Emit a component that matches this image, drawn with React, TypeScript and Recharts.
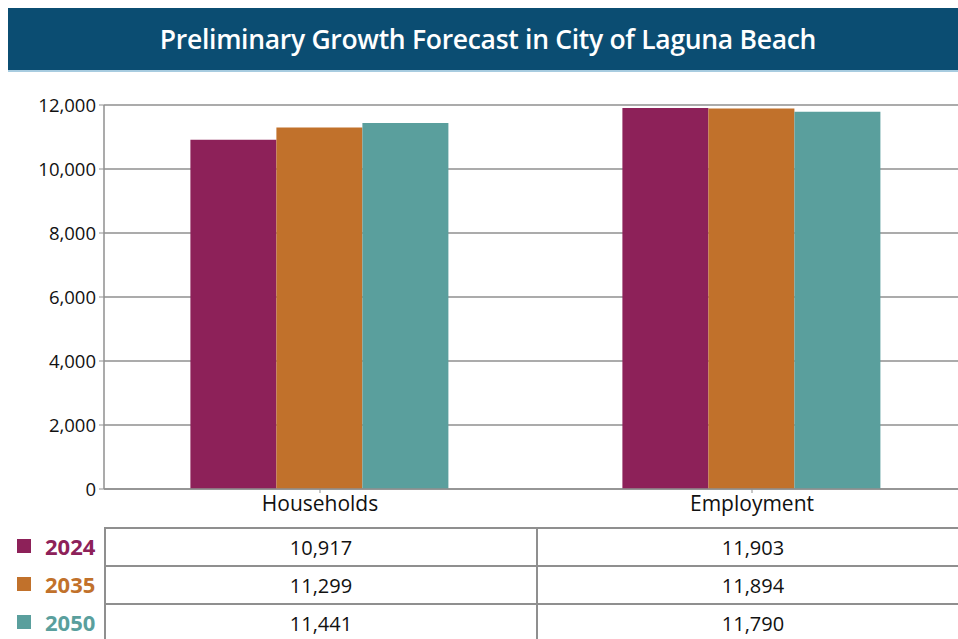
import { BarChart, Bar, XAxis, YAxis, CartesianGrid } from "recharts";

const categories = ["Households", "Employment"];
const years = ["2024", "2035", "2050"];
const values2024 = [10917, 11903];
const values2035 = [11299, 11894];
const values2050 = [11441, 11790];
const yTicks = [0, 2000, 4000, 6000, 8000, 10000, 12000];

const COLORS = ["#8D2159", "#C1712B", "#5A9F9D"];
const series = [values2024, values2035, values2050];

const data = categories.map((name, i) => ({
  name,
  y2024: values2024[i],
  y2035: values2035[i],
  y2050: values2050[i],
}));

const font = "'Open Sans', 'Noto Sans', sans-serif";
const fmt = (v: number) => v.toLocaleString("en-US");

export default function App() {
  return (
    // fixed + clipped to the window so the page never gets scrollbars
    <div
      style={{
        position: "fixed",
        left: 0,
        top: 0,
        width: 958,
        height: 639,
        overflow: "hidden",
        fontFamily: font,
        background: "#fff",
      }}
    >
      <div style={{ position: "absolute", left: 8, top: 8, width: 960 }}>
        {/* Title bar */}
        <div
          style={{
            height: 62,
            background: "#0B4D72",
            borderBottom: "2px solid #A8CCE0",
            color: "#fff",
            fontWeight: 600,
            fontSize: 26.5,
            letterSpacing: -0.3,
            display: "flex",
            alignItems: "center",
            justifyContent: "center",
          }}
        >
          Preliminary Growth Forecast in City of Laguna Beach
        </div>

        <BarChart
          width={960}
          height={455}
          data={data}
          margin={{ top: 33, right: 0, bottom: 0, left: 0 }}
          barCategoryGap="20%"
          barGap={0}
        >
          <CartesianGrid vertical={false} stroke="#8f8f8f" strokeWidth={1.5} />
          <XAxis
            dataKey="name"
            height={38}
            tickSize={4}
            stroke="#8f8f8f"
            axisLine={{ stroke: "#8f8f8f", strokeWidth: 1.5 }}
            tick={{ fontSize: 21, fill: "#111", fontFamily: font }}
            tickMargin={3}
          />
          <YAxis
            width={96}
            domain={[0, 12000]}
            ticks={yTicks}
            tickFormatter={fmt}
            tickSize={5}
            tickMargin={3}
            stroke="#8f8f8f"
            axisLine={{ stroke: "#8f8f8f", strokeWidth: 1.5 }}
            tick={{ fontSize: 18.5, fill: "#111", fontFamily: font }}
          />
          <Bar dataKey="y2024" fill={COLORS[0]} isAnimationActive={false} />
          <Bar dataKey="y2035" fill={COLORS[1]} isAnimationActive={false} />
          <Bar dataKey="y2050" fill={COLORS[2]} isAnimationActive={false} />
        </BarChart>

        {/* Data table */}
        <div style={{ position: "relative", height: 114 }}>
          {years.map((yr, r) => (
            <div
              key={yr}
              style={{
                position: "absolute",
                top: r * 38,
                left: 0,
                width: 960,
                height: 38,
                display: "flex",
              }}
            >
              <div style={{ width: 96, display: "flex", alignItems: "center" }}>
                <span
                  style={{ width: 14, height: 14, background: COLORS[r], marginLeft: 9, marginRight: 14 }}
                />
                <span style={{ fontWeight: 700, fontSize: 22, color: COLORS[r] }}>{yr}</span>
              </div>
              {categories.map((c, ci) => (
                <div
                  key={c}
                  style={{
                    width: 432,
                    boxSizing: "border-box",
                    borderTop: "2px solid #8f8f8f",
                    borderLeft: "2px solid #8f8f8f",
                    display: "flex",
                    alignItems: "center",
                    justifyContent: "center",
                    fontSize: 20,
                    color: "#111",
                  }}
                >
                  {fmt(series[r][ci])}
                </div>
              ))}
            </div>
          ))}
        </div>
      </div>
    </div>
  );
}
